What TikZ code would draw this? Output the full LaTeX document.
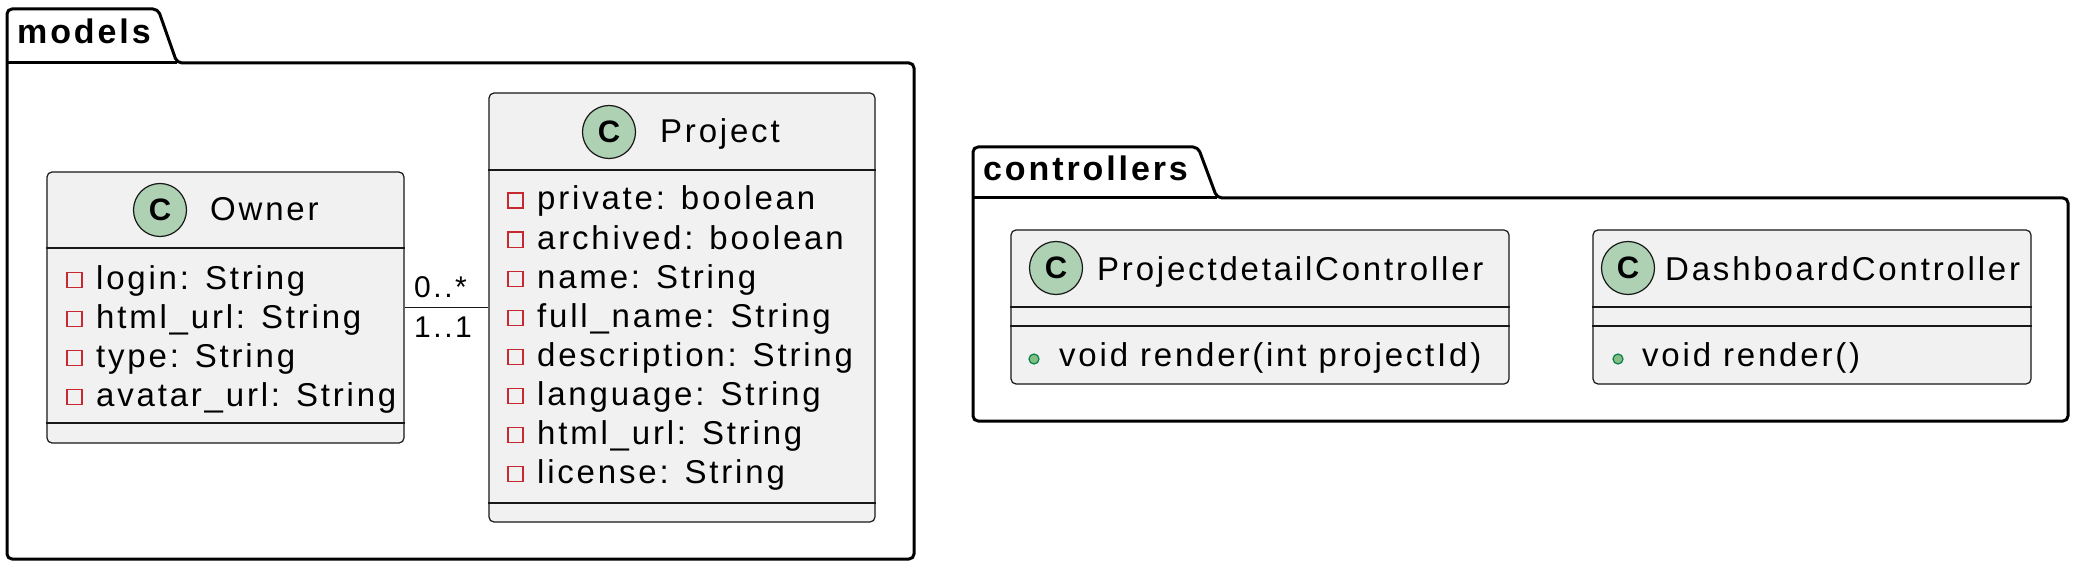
\documentclass[tikz,border=0pt]{standalone}
\usepackage{fontspec}
\setmainfont{Liberation Sans}[LetterSpace=8.5]
\newfontfamily\circfont{Liberation Sans}
\definecolor{boxfill}{HTML}{F1F1F1}
\definecolor{boxline}{HTML}{181818}
\definecolor{circfill}{HTML}{ADD1B2}
\definecolor{privred}{HTML}{C82930}
\definecolor{pubfill}{HTML}{84BE84}
\definecolor{publine}{HTML}{038048}
\tikzset{
 classbox/.style={draw=boxline, fill=boxfill, line width=1.2pt, rounded corners=5pt, inner sep=0pt},
 sepline/.style={draw=boxline, line width=1.2pt},
 pkg/.style={draw=black, fill=white, line width=3pt, rounded corners=5pt, line join=round},
 txt/.style={inner sep=0pt, anchor=base west, font=\fontsize{33}{39}\selectfont},
 lbl/.style={inner sep=0pt, anchor=base west, font=\fontsize{30}{36}\selectfont},
 pkgtitle/.style={inner sep=0pt, anchor=base west, font=\fontsize{34}{40}\selectfont\bfseries},
 circ/.style={circle, draw=boxline, fill=circfill, line width=1.2pt, minimum size=53pt, inner sep=0pt, font=\circfont\bfseries\fontsize{31}{31}\selectfont},
 priv/.style={draw=privred, line width=1.5pt, minimum size=15pt, inner sep=0pt, anchor=south west},
 pub/.style={circle, draw=publine, fill=pubfill, line width=1.2pt, minimum size=10pt, inner sep=0pt},
 assoc/.style={draw=boxline, line width=1.6pt},
}
\begin{document}
\begin{tikzpicture}[x=1pt,y=-1pt]
\useasboundingbox (0,0) rectangle (2080,572);
% packages
\draw[pkg] (7,559) -- (7,9) -- (158,9) -- (177,63) -- (914,63) -- (914,559) -- cycle;
\draw[line width=3pt] (7,63) -- (177,63);
\node[pkgtitle] (modelsT) at (17,44) {models};
\draw[pkg] (973,421) -- (973,147) -- (1198,147) -- (1217,198) -- (2068,198) -- (2068,421) -- cycle;
\draw[line width=3pt] (973,198) -- (1217,198);
\node[pkgtitle] (ctrlT) at (983,181) {controllers};

% Owner
\node[classbox, minimum width=357pt, minimum height=271pt] (owner) at (225.5,307.5) {};
\node[circ] (ownerC) at (160,210) {C};
\node[txt] (ownerN) at (210,221) {Owner};
\draw[sepline] (owner.west |- 0,248) -- (owner.east |- 0,248);
\draw[sepline] (owner.west |- 0,423) -- (owner.east |- 0,423);
\foreach \t [count=\i from 0] in {login: String, html\_url: String, type: String, avatar\_url: String}{
  \pgfmathsetmacro\yy{289+39*\i}
  \node[priv] (oi\i) at (66,\yy-1) {};
  \node[txt] (oa\i) at (96,\yy) {\t};
}

% Project
\node[classbox, minimum width=386pt, minimum height=429pt] (project) at (682,307.5) {};
\node[circ] (projectC) at (609,132) {C};
\node[txt] (projectN) at (660,143) {Project};
\draw[sepline] (project.west |- 0,170) -- (project.east |- 0,170);
\draw[sepline] (project.west |- 0,503) -- (project.east |- 0,503);
\foreach \t [count=\i from 0] in {private: boolean, archived: boolean, name: String, full\_name: String, description: String, language: String, html\_url: String, license: String}{
  \pgfmathsetmacro\yy{210+39*\i}
  \node[priv] (pi\i) at (507,\yy-1) {};
  \node[txt] (pa\i) at (537,\yy) {\t};
}

% association
\draw[assoc] (owner) -- (project);
\node[lbl] (m1) at (414,297) {0..*};
\node[lbl] (m2) at (414,337) {1..1};

% ProjectdetailController
\node[classbox, minimum width=498pt, minimum height=154pt] (pdc) at (1260,307) {};
\node[circ] (pdcC) at (1056,268) {C};
\node[txt] (pdcN) at (1097,280) {ProjectdetailController};
\draw[sepline] (pdc.west |- 0,307) -- (pdc.east |- 0,307);
\draw[sepline] (pdc.west |- 0,326) -- (pdc.east |- 0,326);
\node[pub] (pdcD) at (1034,359) {};
\node[txt] (pdcM) at (1059,366) {void render(int projectId)};

% DashboardController
\node[classbox, minimum width=438pt, minimum height=154pt] (dc) at (1812,307) {};
\node[circ] (dcC) at (1628,268) {C};
\node[txt] (dcN) at (1665,280) {DashboardController};
\draw[sepline] (dc.west |- 0,307) -- (dc.east |- 0,307);
\draw[sepline] (dc.west |- 0,326) -- (dc.east |- 0,326);
\node[pub] (dcD) at (1618,359) {};
\node[txt] (dcM) at (1642,366) {void render()};
\end{tikzpicture}
\end{document}
